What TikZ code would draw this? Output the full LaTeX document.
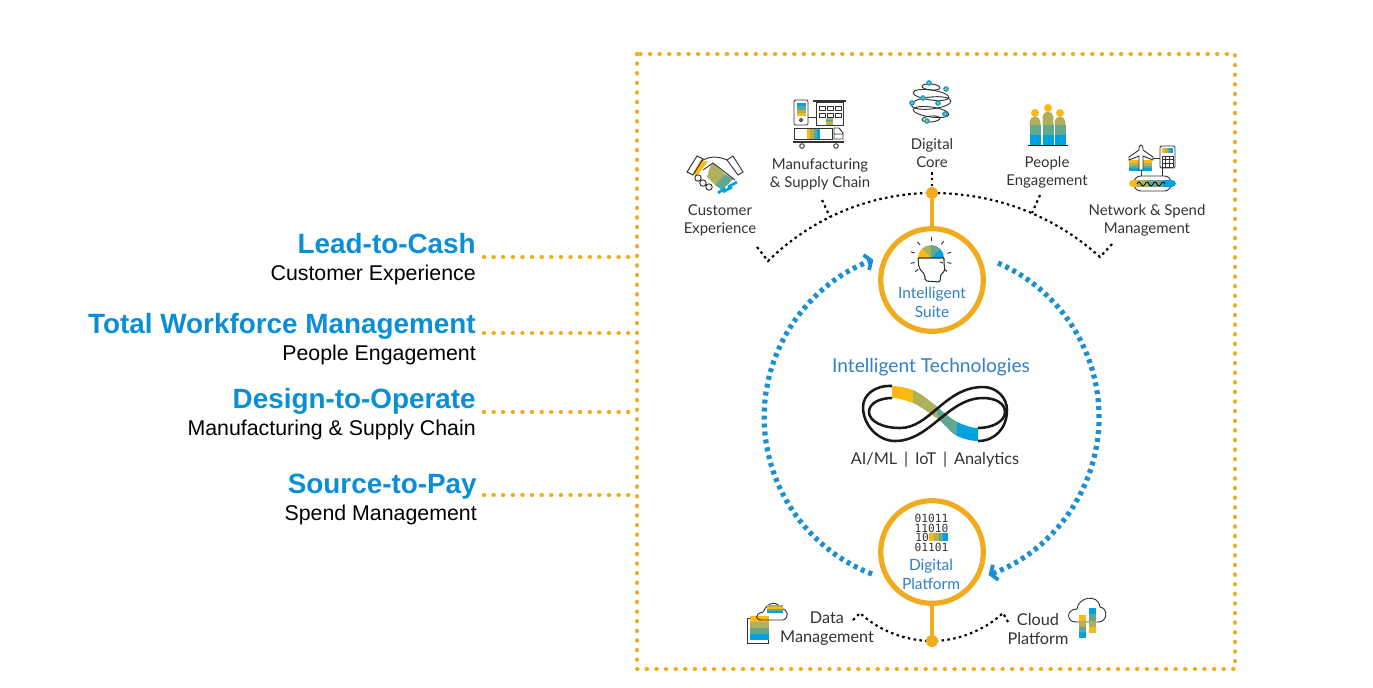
\documentclass[tikz,border=0pt]{standalone}
\usepackage{fontspec}
\setmainfont{Liberation Sans}
\newfontfamily\labelfont{Lato}
\newfontfamily\bitfont{DejaVu Sans Mono}
\usetikzlibrary{arrows.meta, positioning, shapes.geometric}

\definecolor{frameyellow}{HTML}{F0AB1E}
\definecolor{titleblue}{HTML}{0A8FD6}
\definecolor{textblue}{HTML}{2F80C8}
\definecolor{ringblue}{HTML}{1B8FD2}
\definecolor{bandyellow}{HTML}{FDB913}
\definecolor{bandolive}{HTML}{B0B05A}
\definecolor{bandteal}{HTML}{62A88F}
\definecolor{bandblue}{HTML}{00A3E0}
\definecolor{inkline}{HTML}{333333}

% x, y, width, height, colours from the top
\newcommand{\hbands}[5]{\foreach \bandcol [count=\i from 0] in {#5}
  \fill[\bandcol] ({#1},{#2+\i*#4/4}) rectangle ++(#3,#4/4);}
% x, y, width, height, colours from the left
\newcommand{\vbands}[5]{\foreach \bandcol [count=\i from 0] in {#5}
  \fill[\bandcol] ({#1+\i*#3/4},{#2}) rectangle ++(#3/4,#4);}

\begin{document}
\begin{tikzpicture}[
    x=0.75pt, y=-0.75pt,
    title label/.style={anchor=base east, inner sep=0pt, text=titleblue,
                        font=\fontsize{20.9}{24}\selectfont\bfseries},
    sub label/.style={anchor=base east, inner sep=0pt, text=black,
                      font=\fontsize{16}{18}\selectfont},
    icon label/.style={inner sep=0pt, align=center, text=inkline,
                       font=\labelfont\fontsize{11.2}{13.6}\selectfont},
    wide label/.style={icon label, font=\labelfont\fontsize{12.2}{14.2}\selectfont},
    blue label/.style={inner sep=0pt, align=center, text=textblue,
                       font=\labelfont\fontsize{11.6}{14.4}\selectfont},
    ring/.style={circle, draw=frameyellow, line width=3.9pt, fill=none,
                 minimum size=77pt, inner sep=0pt},
    joint/.style={circle, fill=frameyellow, minimum size=9pt, inner sep=0pt},
    stem/.style={draw=frameyellow, line width=3.2pt},
    leader/.style={draw=frameyellow, line width=3.4pt, line cap=round,
                   dash pattern=on 0.01pt off 7.2pt},
    dots/.style={draw=black, line width=1.6pt, dash pattern=on 1.9pt off 2.5pt},
    blue dots/.style={draw=ringblue, line width=3.9pt, dash pattern=on 3pt off 3pt},
    icon/.style={draw=inkline, line width=0.7pt}
]
\useasboundingbox (0,0) rectangle (1373,687);

% Frame
\draw[leader] (637,54) rectangle (1235,669);

% Left labels
\node[title label] (leadTitle) at (476,253) {Lead-to-Cash};
\node[sub label] (leadSub) at (476,280) {Customer Experience};
\node[title label] (workforceTitle) at (476,333) {Total Workforce Management};
\node[sub label] (workforceSub) at (476,360) {People Engagement};
\node[title label] (designTitle) at (476,408) {Design-to-Operate};
\node[sub label] (designSub) at (476,435) {Manufacturing \& Supply Chain};
\node[title label] (sourceTitle) at (477,493) {Source-to-Pay};
\node[sub label] (sourceSub) at (477,520) {Spend Management};

% Leaders
\foreach \name/\ypos in {lead/257, workforce/333, design/412, source/495} {
  \coordinate (\name Start) at (484,\ypos);
  \coordinate (\name End) at (637,\ypos);
  \draw[leader] (\name Start) -- (\name End);
}

% Blue loop
\coordinate (leftStart) at (872,574);
\coordinate (rightStart) at (998,263);
\draw[blue dots, -{Straight Barb[length=4pt, width=12pt, line width=2.8pt]}]
  (leftStart) arc[start angle=249, end angle=110.5, radius=126pt];
\draw[blue dots, -{Straight Barb[length=4pt, width=12pt, line width=2.8pt]}]
  (rightStart) arc[start angle=66.5, end angle=-70, radius=126pt];

% Top arc
\coordinate (topCentre) at (932,193);
\coordinate (bottomCentre) at (932,641);
\coordinate (arcLeft) at (768,261);
\coordinate (arcRight) at (1100,257);
\coordinate (tickCustomer) at (757,247);
\coordinate (tickMfg) at (822,200);
\coordinate (footMfg) at (830,217);
\coordinate (tickCore) at (932,172);
\coordinate (tickPeople) at (1040,195);
\coordinate (footPeople) at (1032,213);
\coordinate (tickNetwork) at (1113,243);
\draw[dots] (tickCustomer) -- (arcLeft) .. controls (815,215) and (875,193) .. (topCentre)
  .. controls (990,193) and (1050,212) .. (arcRight) -- (tickNetwork);
\draw[dots] (tickMfg) -- (footMfg);
\draw[dots] (tickCore) -- (topCentre);
\draw[dots] (tickPeople) -- (footPeople);

% Bottom arcs
\coordinate (dataEnd) at (853,620);
\coordinate (dataPeak) at (860,613);
\coordinate (cloudEnd) at (1008,622);
\coordinate (cloudPeak) at (1003,613);
\draw[dots] (dataEnd) -- (dataPeak) .. controls (878,630) and (905,641) .. (bottomCentre);
\draw[dots] (cloudEnd) -- (cloudPeak) .. controls (985,630) and (958,641) .. (bottomCentre);

% Circles and joints
\node[ring] (suite) at (932,280) {};
\node[ring] (platform) at (932,552) {};
\node[joint] (topJoint) at (topCentre) {};
\node[joint] (bottomJoint) at (bottomCentre) {};
\draw[stem] (topJoint) -- (suite);
\draw[stem] (platform) -- (bottomJoint);

% Labels
\node[icon label] (customerLabel) at (720,220) {Customer\\Experience};
\node[icon label] (mfgLabel) at (820,174) {Manufacturing\\\& Supply Chain};
\node[icon label] (coreLabel) at (932,153) {Digital\\Core};
\node[icon label] (peopleLabel) at (1047,172) {People\\Engagement};
\node[icon label] (networkLabel) at (1147,220) {Network \& Spend\\Management};
\node[wide label] (dataLabel) at (827,629) {Data\\Management};
\node[wide label] (cloudLabel) at (1038,629) {Cloud\\Platform};
\node[blue label] (suiteLabel) at (932,302) {Intelligent\\Suite};
\node[blue label] (platformLabel) at (931,574) {Digital\\Platform};
\node[blue label, font=\labelfont\fontsize{14.4}{16}\selectfont] (techLabel) at (931,367) {Intelligent Technologies};
\node[wide label] (aiLabel) at (935,460) {AI/ML \,|\, IoT \,|\, Analytics};

% Handshake
\fill[bandyellow] (700,161) -- (708,161) -- (697,176) -- (693,173) -- cycle;
\fill[bandolive] (710,167) -- (713,163) -- (725,174) -- (715,185) -- (707,177) -- cycle;
\fill[bandteal] (725,174) -- (733,179) -- (722,190) -- (715,185) -- cycle;
\draw[bandblue, line width=2pt] (737,182) -- (728,187) (732,187) -- (723,192) (725,188) -- (718,193);
\draw[icon] (697,156) -- (703,159) -- (693,175) -- (687,172) -- cycle;
\draw[icon] (733,156) -- (743,172) -- (738,175) -- (727,160) -- cycle;
\draw[icon] (701,161) .. controls (710,156) and (718,156) .. (727,160) (713,163) -- (735,180) (713,163) -- (703,170);
\draw[icon, fill=white] (698,178) circle[radius=3.2] (703,183) circle[radius=3.2] (709,187) circle[radius=3.2];

% Factory and truck
\draw[icon, rounded corners=1pt] (794,100) rectangle (808,125);
\hbands{797}{103}{9}{13}{bandblue,bandteal,bandolive,bandyellow}
\draw[icon] (801,120) circle[radius=1.6];
\draw[icon] (808,117) -- (816,117);
\draw[icon, line width=1pt] (813,101) -- (846,101);
\draw[icon] (816,102) rectangle (843,125);
\foreach \xpos in {819,827,835} \foreach \ypos in {106,113}
  \draw[icon] (\xpos,\ypos) rectangle ++(6,4.5);
\hbands{826}{118}{7}{7}{bandolive,bandteal,bandyellow,bandolive}
\draw[icon, fill=white] (794,128) rectangle (832,139);
\vbands{807}{128.5}{13}{10}{bandyellow,bandolive,bandteal,bandblue}
\draw[icon] (834,139) -- (834,128) -- (839,128) -- (843,133) -- (843,139) -- cycle (834,134) -- (843,134);
\draw[icon, line width=1pt] (793,142) -- (844,142);
\draw[icon] (802,146) circle[radius=2.3] (836,146) circle[radius=2.3];

% Digital core
\foreach \ypos/\xrad/\yrad/\tilt in {87/9/3/-5, 95/18/5/-8, 103/20/6/6, 112/18/5/-8, 119/9/3/5}
  \draw[icon] (931,\ypos) ellipse[x radius=\xrad*0.75pt, y radius=\yrad*0.75pt, rotate=\tilt];
\foreach \xpos/\ypos in {929/83, 946/89, 923/98, 912/103, 938/103, 945/114, 927/121}
  \draw[draw=bandblue, fill=bandolive, line width=0.9pt] (\xpos,\ypos) circle[radius=2.2];

% People
\foreach \xpos/\top/\head in {1035/118/113, 1048/113/108, 1060/118/113} {
  \fill[bandyellow] (\xpos,\head) circle[radius=4];
  \fill[bandolive] (\xpos-5.5,125) -- (\xpos-5.5,\top+4) arc[start angle=180, end angle=0, radius=4.1pt] -- (\xpos+5.5,125) -- cycle;
  \fill[bandteal] (\xpos-5.5,125) rectangle (\xpos+5.5,135);
  \fill[bandblue] (\xpos-5.5,135) rectangle (\xpos+5.5,145);
}
\draw[icon, draw=black] (1028,145) -- (1068,145);

% Network and spend
\hbands{1129}{160}{23}{11}{bandyellow,bandolive,bandteal,bandblue}
\draw[icon, fill=white] (1139,170) -- (1139,156) -- (1129,160) -- (1129,157) -- (1139,150) -- (1139,148)
  .. controls (1140,144) and (1142,144) .. (1143,148) -- (1143,150) -- (1153,157) -- (1153,160) -- (1143,156) -- (1143,170) -- cycle;
\draw[icon] (1153,158) -- (1160,158);
\draw[icon, rounded corners=1pt] (1160,146) rectangle (1175,168);
\vbands{1162}{147.5}{11}{5.5}{bandyellow,bandolive,bandteal,bandblue}
\foreach \step in {0,3.67,7.33,11} {
  \draw[icon, line width=0.5pt] (1162+\step,156) -- (1162+\step,167);
  \draw[icon, line width=0.5pt] (1162,156+\step) -- (1173,156+\step);
}
\draw[icon] (1141,170) -- (1141,176) (1162,168) -- (1162,176);
\draw[icon, rounded corners=5pt] (1134,176) rectangle (1171,191);
\fill[bandyellow, rounded corners=3pt] (1129,180) rectangle (1145,187);
\fill[bandblue, rounded corners=3pt] (1160,180) rectangle (1176,187);
\fill[bandolive] (1137,180) rectangle (1148,187);
\fill[bandteal] (1148,180) rectangle (1163,187);
\draw[draw=black, line width=0.6pt] (1137,184) sin (1139,182) cos (1141,184) sin (1143,186) cos (1145,184) sin (1147,182) cos (1149,184) sin (1151,186) cos (1153,184) sin (1155,182) cos (1157,184) sin (1159,186) cos (1161,184) sin (1163,182) cos (1165,184);

% Head
\foreach \aa/\bb/\bandcol in {180/135/bandyellow, 135/90/bandolive, 90/45/bandteal, 45/0/bandblue}
  \fill[\bandcol] (931,258) -- ++(-\aa:13) arc[start angle=\aa, end angle=\bb, radius=9.75pt] -- cycle;
\draw[icon, line width=0.8pt, rounded corners=1.5pt] (918,258) -- (919,268) -- (925,275) -- (925,281) -- (940,282) -- (941,273) -- (945,272) -- (944,263) -- (944,258);
\draw[icon, line width=0.8pt] (918,258) -- (944,258) (940,262) -- (943,263);
\foreach \ang in {-163,-130,-90,-53,-16,15,40,139,165}
  \draw[icon] (931,258) ++(\ang:17) -- ++(\ang:4);

% Infinity ribbon
\fill[bandyellow] (892,386) .. controls (900,386) and (907,388) .. (913,390) -- (913,403) .. controls (907,401) and (900,398) .. (892,398) -- cycle;
\fill[bandolive] (913,390) .. controls (922,394) and (928,400) .. (935,405) -- (938,419) .. controls (930,414) and (922,407) .. (913,403) -- cycle;
\fill[bandteal] (935,405) .. controls (942,411) and (950,418) .. (957,422) -- (957,436) .. controls (950,432) and (944,424) .. (938,419) -- cycle;
\fill[bandblue] (957,422) .. controls (964,425) and (971,428) .. (978,428) -- (978,441) .. controls (971,441) and (964,439) .. (957,436) -- cycle;
\draw[draw=black!90, line width=1.9pt]
  (892,386) .. controls (875,385) and (863,395) .. (863,407) .. controls (863,425) and (878,441) .. (895,441)
  .. controls (930,441) and (948,398) .. (983,398) .. controls (995,398) and (1005,403) .. (1005,412) .. controls (1005,421) and (993,428) .. (978,428);
\draw[draw=black!90, line width=1.9pt]
  (892,398) .. controls (880,398) and (869,403) .. (869,412) .. controls (869,421) and (882,428) .. (900,428)
  .. controls (930,428) and (945,387) .. (983,387) .. controls (997,387) and (1007,398) .. (1007,410) .. controls (1007,428) and (995,441) .. (978,441);

% Bits
\foreach \ypos/\bits in {518/01011, 528/11010, 547/01101}
  \node[inner sep=0pt, text=inkline, font=\bitfont\fontsize{8.4}{10}\selectfont] (bits\ypos) at (931.5,\ypos) {\bits};
\node[inner sep=0pt, anchor=west, text=inkline, font=\bitfont\fontsize{8.4}{10}\selectfont] (bits537) at (915,537) {10};
\vbands{929}{533}{19}{8}{bandyellow,bandolive,bandteal,bandblue}

% Data management
\draw[icon] (747,618) rectangle (768,643);
\hbands{750}{616}{19}{24}{bandyellow,bandolive,bandteal,bandblue}
\draw[icon] (763,612) .. controls (754,614) and (755,620) .. (762,620) -- (783,620) .. controls (790,618) and (788,608) .. (781,609) .. controls (778,601) and (768,601) .. (763,612);
\hbands{767}{605}{16}{8}{bandolive,bandyellow,bandteal,bandblue}

% Cloud platform
\draw[icon] (1076,622) .. controls (1066,622) and (1066,609) .. (1077,609) .. controls (1078,597) and (1098,593) .. (1100,607) .. controls (1108,608) and (1108,622) .. (1098,622) -- cycle;
\hbands{1079}{615}{7}{23}{bandyellow,bandolive,bandteal,bandblue}
\hbands{1089}{608}{7}{25}{bandblue,bandteal,bandolive,bandyellow}

\end{tikzpicture}
\end{document}
